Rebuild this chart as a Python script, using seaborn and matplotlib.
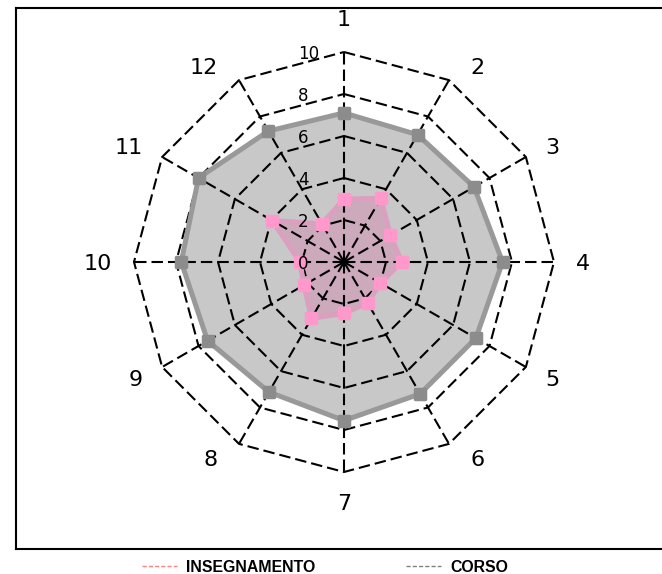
import numpy as np
import pandas as pd
import matplotlib.pyplot as plt
import matplotlib.transforms as mtransforms
from matplotlib.lines import Line2D
from matplotlib.markers import MarkerStyle
import seaborn as sns

# Data
categories = ["1", "2", "3", "4", "5", "6", "7", "8", "9", "10", "11", "12"]
corso = [7.1, 7.0, 7.15, 7.55, 7.25, 7.25, 7.55, 7.15, 7.5, 7.75, 8.0, 7.2]
insegnamento = [3.0, 3.5, 2.55, 2.75, 2.0, 2.25, 2.45, 3.1, 2.2, 2.1, 3.95, 2.1]
rings = [2, 4, 6, 8, 10]
ring_labels = ["0", "2", "4", "6", "8", "10"]

sns.set_style("white")
plt.rcParams["font.family"] = ["DejaVu Sans"]
plt.rcParams["text.color"] = "black"

n = len(categories)
angles = np.deg2rad(np.arange(n) * 360.0 / n)


def to_xy(values):
    v = np.asarray(values, dtype=float)
    v = np.append(v, v[0])
    a = np.append(angles, angles[0])
    return v * np.sin(a), v * np.cos(a)


W, H = 662, 574
fig = plt.figure(figsize=(W / 100, H / 100), dpi=100)
ax = fig.add_axes([16 / W, (H - 549) / H, (672 - 16) / W, (549 - 8) / H])
scale = 21.0  # pixels per unit
ax.set_xlim(-(344 - 16) / scale, (672 - 344) / scale)
ax.set_ylim(-(549 - 262) / scale, (262 - 8) / scale)
ax.set_xticks([])
ax.set_yticks([])
for side, sp in ax.spines.items():
    sp.set_color("black")
    sp.set_linewidth(1.5)
    sp.set_visible(True)

# fills
cx, cy = to_xy(corso)
ix, iy = to_xy(insegnamento)
ax.fill(cx, cy, color="#c8c8c8", zorder=1)
ax.fill(ix, iy, color="#ccaabb", zorder=1.5)

# polygon grid and spokes
dash = (0, (5.5, 2.4))
for r in rings:
    gx, gy = to_xy([r] * n)
    ax.plot(gx, gy, color="black", lw=1.5, ls=dash, zorder=2)
for a in angles:
    ax.plot([0, 10 * np.sin(a)], [0, 10 * np.cos(a)], color="black", lw=1.5, ls=dash, zorder=2)

# series
df = pd.DataFrame({"x": np.concatenate([cx, ix]), "y": np.concatenate([cy, iy]),
                   "serie": ["CORSO"] * len(cx) + ["INSEGNAMENTO"] * len(ix)})
sns.lineplot(data=df[df.serie == "CORSO"], x="x", y="y", sort=False, estimator=None,
             color="#999999", lw=3.6, ax=ax, zorder=3)
sns.lineplot(data=df[df.serie == "INSEGNAMENTO"], x="x", y="y", sort=False, estimator=None,
             color="#dba0bf", lw=3.6, ax=ax, zorder=3)
sq = MarkerStyle("s", joinstyle="round")
ax.plot(cx[:-1], cy[:-1], ls="none", marker=sq, ms=7.5, mew=2.5,
        mfc="#8c8c8c", mec="#8c8c8c", zorder=4)
ax.plot(ix[:-1], iy[:-1], ls="none", marker=sq, ms=7.5, mew=2.5,
        mfc="#ff99cc", mec="#ff99cc", zorder=4)
ax.set_xlabel("")
ax.set_ylabel("")

# radial labels
for i, lab in enumerate(ring_labels):
    ax.text(-2.19, i * 2, lab, ha="left", va="center_baseline", fontsize=12, zorder=6)

# category labels
R = 11.05
for a, lab in zip(angles, categories):
    s, c = np.sin(a), np.cos(a)
    tr = ax.transData
    if abs(s) < 0.01:
        ha, va = "center", ("bottom" if c > 0 else "top")
    else:
        ha, va = ("left" if s > 0 else "right"), "center_baseline"
        if abs(c) > 0.8:
            # labels next to the vertical axis sit a bit further out sideways
            tr = mtransforms.offset_copy(ax.transData, fig=fig, units="dots",
                                         x=np.sign(s) * 10, y=-5 * np.sign(c))
    ax.text(R * s, R * c, lab, ha=ha, va=va, fontsize=16, zorder=6, transform=tr)

# legend
handles = [Line2D([], [], color="#ff8080", lw=1, ls=(0, (3, 1.5))),
           Line2D([], [], color="#808080", lw=1, ls=(0, (3, 1.5)))]
leg = fig.legend(handles, ["INSEGNAMENTO", "CORSO"], loc="center", ncol=2,
                 bbox_to_anchor=(325 / W, 1 - 567.5 / H), frameon=False,
                 handlelength=2.2, handletextpad=0.6, columnspacing=5.7,
                 prop={"family": "Liberation Sans", "weight": "bold", "size": 11.4})
for t in leg.get_texts():
    t.set_color("black")

fig.savefig("out.png", dpi=100)
